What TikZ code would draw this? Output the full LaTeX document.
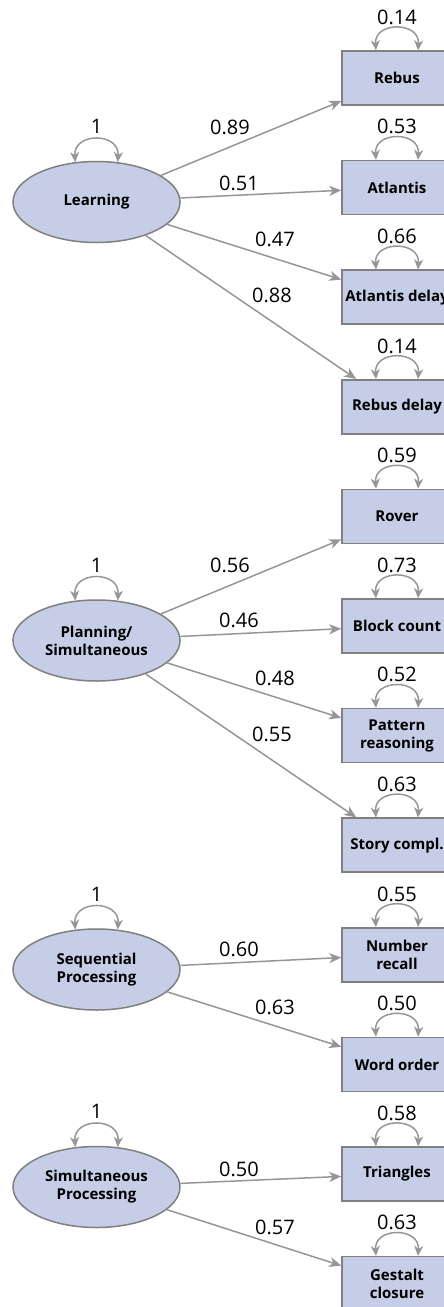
\documentclass[tikz,border=0pt]{standalone}
\usepackage{fontspec}
\setmainfont{Open Sans}
\usetikzlibrary{shapes.geometric,arrows.meta}
\definecolor{boxfill}{RGB}{197,206,230}
\definecolor{bordergray}{RGB}{128,128,128}
\definecolor{edgegray}{RGB}{150,150,150}
\tikzset{
  obs/.style={rectangle, minimum width=110pt, minimum height=54pt, fill=boxfill, draw=bordergray, line width=1.5pt, font=\bfseries\fontsize{15}{18}\selectfont, align=center, inner sep=0pt},
  lat/.style={ellipse, minimum width=167pt, minimum height=81pt, fill=boxfill, draw=bordergray, line width=1.5pt, font=\bfseries\fontsize{15}{18}\selectfont, align=center, inner sep=0pt},
  load/.style={draw=edgegray, line width=1.5pt, -{Stealth[length=12pt,width=10pt,inset=3.5pt]}},
  var/.style={draw=edgegray, line width=1.5pt, {Stealth[length=10pt,width=9pt,inset=3pt]}-{Stealth[length=10pt,width=9pt,inset=3pt]}},
  lbl/.style={font=\fontsize{20}{22}\selectfont, inner sep=0pt}
}
\begin{document}
\begin{tikzpicture}[x=1pt,y=-1pt]
\useasboundingbox (0,0) rectangle (444,1307);
\clip (0,0) rectangle (444,1307);
% observed
\node[obs] (rebus)  at (397,78)    {Rebus};
\node[obs] (atl)    at (397,187.6) {Atlantis};
\node[obs] (atld)   at (397,297.2) {Atlantis delay};
\node[obs] (rebd)   at (397,406.8) {Rebus delay};
\node[obs] (rover)  at (397,516.4) {Rover};
\node[obs] (block)  at (397,626)   {Block count};
\node[obs] (patt)   at (397,735.6) {Pattern\\reasoning};
\node[obs] (story)  at (397,845.2) {Story compl.};
\node[obs] (numr)   at (397,954.8) {Number\\recall};
\node[obs] (word)   at (397,1064.4){Word order};
\node[obs] (tri)    at (397,1174)  {Triangles};
\node[obs] (gest)   at (397,1283.6){Gestalt\\closure};
% latent
\node[lat] (learn) at (96.5,202)    {Learning};
\node[lat] (plan)  at (96.5,640.5)  {Planning/\\Simultaneous};
\node[lat] (seq)   at (96.5,969.5)  {Sequential\\Processing};
\node[lat] (sim)   at (96.5,1187)   {Simultaneous\\Processing};
% loadings
\draw[load] (learn) -- (rebus);
\draw[load] (learn) -- (atl);
\draw[load] (learn) -- (atld);
\draw[load] (learn) -- (rebd);
\draw[load] (plan) -- (rover);
\draw[load] (plan) -- (block);
\draw[load] (plan) -- (patt);
\draw[load] (plan) -- (story);
\draw[load] (seq) -- (numr);
\draw[load] (seq) -- (word);
\draw[load] (sim) -- (tri);
\draw[load] (sim) -- (gest);
\node[lbl] (l1)  at (230,127)  {0.89};
\node[lbl] (l2)  at (239,183)  {0.51};
\node[lbl] (l3)  at (275,239)  {0.47};
\node[lbl] (l4)  at (272,295)  {0.88};
\node[lbl] (l5)  at (230,565)  {0.56};
\node[lbl] (l6)  at (239,620)  {0.46};
\node[lbl] (l7)  at (275,678)  {0.48};
\node[lbl] (l8)  at (272,734)  {0.55};
\node[lbl] (l9)  at (239,949)  {0.60};
\node[lbl] (l10) at (275,1007) {0.63};
\node[lbl] (l11) at (239,1169) {0.50};
\node[lbl] (l12) at (275,1227) {0.57};
% variances of observed
\foreach \n/\v in {rebus/0.14, atl/0.53, atld/0.66, rebd/0.14, rover/0.59, block/0.73, patt/0.52, story/0.63, numr/0.55, word/0.50, tri/0.58, gest/0.63}{
  \draw[var] ([xshift=-21pt]\n.north) .. controls +(-2,-29) and +(2,-29) .. ([xshift=21pt]\n.north);
  \node[lbl] (v\n) at ([yshift=33pt]\n.north) {\v};
}
% variances of latent
\foreach \n in {learn, plan, seq, sim}{
  \draw[var] (\n.118) .. controls +(-2,-30) and +(2,-30) .. (\n.62);
  \node[lbl] (v\n) at ([yshift=34pt]\n.north) {1};
}
\end{tikzpicture}
\end{document}
